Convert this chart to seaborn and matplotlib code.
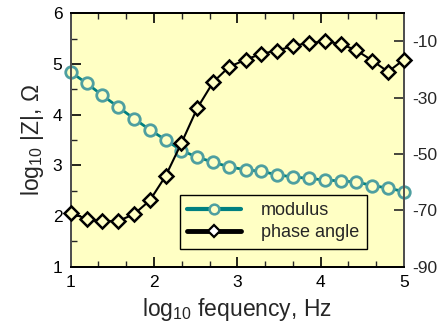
import matplotlib
matplotlib.use("Agg")
import matplotlib.pyplot as plt
import seaborn as sns
import pandas as pd
from matplotlib.lines import Line2D
from matplotlib.ticker import MultipleLocator

sns.set_theme(style="ticks")
plt.rcParams['font.family'] = ['Liberation Sans', 'DejaVu Sans']
plt.rcParams['mathtext.fontset'] = 'custom'
plt.rcParams['mathtext.rm'] = 'Liberation Sans'
plt.rcParams['mathtext.it'] = 'Liberation Sans:italic'

log_freq = [1.00, 1.19, 1.38, 1.57, 1.76, 1.95, 2.14, 2.33, 2.52, 2.71, 2.90,
            3.10, 3.29, 3.48, 3.67, 3.86, 4.05, 4.24, 4.43, 4.62, 4.81, 5.00]
modulus = [4.84, 4.62, 4.38, 4.15, 3.92, 3.70, 3.50, 3.29, 3.16, 3.06, 2.97,
           2.91, 2.88, 2.81, 2.77, 2.74, 2.71, 2.69, 2.67, 2.60, 2.55, 2.48]
phase = [-70.8, -73.1, -73.9, -73.8, -71.4, -66.5, -57.8, -46.1, -33.7, -24.5, -19.1,
         -16.5, -14.4, -13.3, -11.6, -10.6, -10.0, -10.9, -13.2, -16.8, -20.8, -16.5]
left_ticks = [1, 2, 3, 4, 5, 6]
right_ticks = [-90, -70, -50, -30, -10]
right_labels = ["-90", "-70", "-50", "-30", "-10"]
x_ticks = [1, 2, 3, 4, 5]

df = pd.DataFrame({"x": log_freq, "modulus": modulus, "phase": phase})

bg = "#FFFFC4"
teal_line = "#008080"
teal_edge = "#4E9FA0"

fig = plt.figure(figsize=(4.39, 3.22), dpi=100)
ax = fig.add_axes([0.161, 0.172, 0.759, 0.787])
ax.set_facecolor(bg)
ax2 = ax.twinx()

sns.lineplot(data=df, x="x", y="modulus", ax=ax, color=teal_line, linewidth=2.0,
             marker="o", markersize=8.3, markerfacecolor=bg, markeredgecolor=teal_edge,
             markeredgewidth=2.0, legend=False, zorder=3, clip_on=False)
sns.lineplot(data=df, x="x", y="phase", ax=ax2, color="black", linewidth=1.5,
             marker="D", markersize=7, markerfacecolor=bg, markeredgecolor="black",
             markeredgewidth=1.8, legend=False, zorder=3, clip_on=False)

ax.set_xlim(1, 5)
ax.set_ylim(1, 6)
ax2.set_ylim(-90, 0)
ax.set_xticks(x_ticks)
ax.set_xticklabels([str(t) for t in x_ticks])
ax.set_yticks(left_ticks)
ax.set_yticklabels([str(t) for t in left_ticks])
ax.xaxis.set_minor_locator(MultipleLocator(1/3))
ax.yaxis.set_minor_locator(MultipleLocator(0.5))
ax2.set_yticks(right_ticks)
ax2.set_yticklabels(right_labels)

ax.tick_params(axis="both", which="major", direction="in", length=7, width=1.2,
               labelsize=12.5, colors="black", top=True, pad=6)
ax.tick_params(axis="both", which="minor", direction="in", length=4, width=1.0, top=True)
ax.tick_params(axis="y", which="both", right=False)
ax2.tick_params(axis="y", which="major", direction="in", length=7, width=1.2,
                labelsize=12.5, pad=6)

for a in (ax, ax2):
    for s in a.spines.values():
        s.set_linewidth(1.4)
        s.set_color("black")
    a.spines["left"].set_color("#505050")
    a.spines["right"].set_color("#505050")

ax.set_xlabel(r"log$_{10}$ fequency, Hz", fontsize=16.5, labelpad=4)
ax.set_ylabel(r"log$_{10}$ |Z|, $\Omega$", fontsize=16.5, labelpad=5)
ax2.set_ylabel("")

handles = [
    Line2D([], [], color=teal_line, linewidth=3, marker="o", markersize=7,
           markerfacecolor=bg, markeredgecolor=teal_edge, markeredgewidth=1.8),
    Line2D([], [], color="black", linewidth=3.5, marker="D", markersize=6,
           markerfacecolor="white", markeredgecolor="black", markeredgewidth=1.6),
]
leg = ax2.legend(handles, ["modulus", "phase angle"], loc="lower right",
                 bbox_to_anchor=(0.915, 0.035), fontsize=13, frameon=True,
                 fancybox=False, edgecolor="black", facecolor=bg, framealpha=1,
                 handlelength=3.0, handletextpad=1.1, borderpad=0.4, labelspacing=0.3)
leg.get_frame().set_linewidth(1.0)

fig.savefig("out.png", dpi=100)
